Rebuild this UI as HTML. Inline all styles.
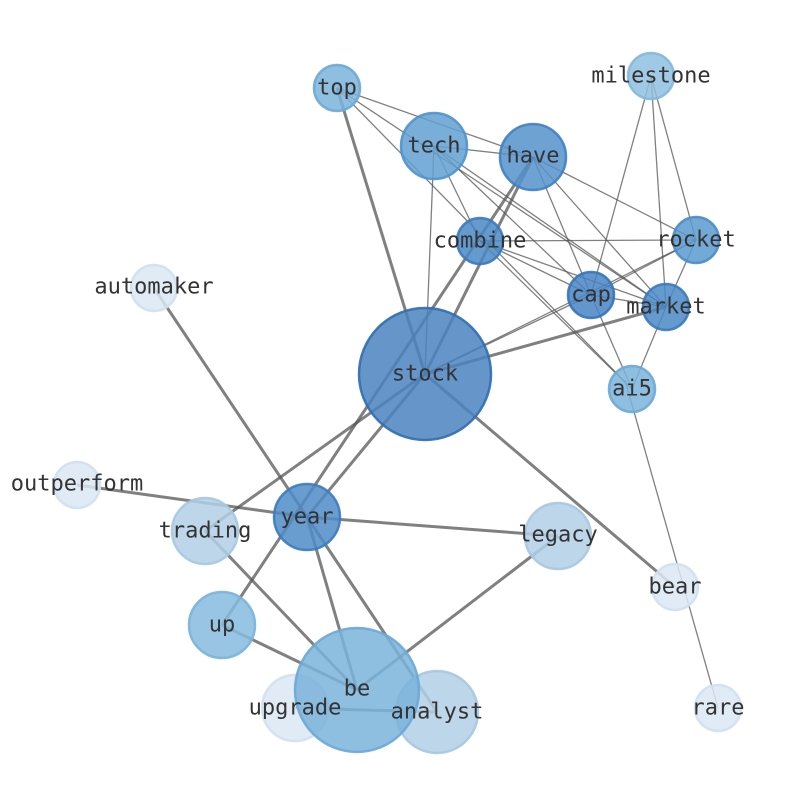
<!DOCTYPE html>
<html><head><meta charset="utf-8"><style>
html,body{margin:0;padding:0;background:#fff;}
svg text{font-family:"DejaVu Sans Mono","Liberation Mono",monospace;font-size:22px;fill:#333;text-anchor:middle;dominant-baseline:central;}
</style></head><body>
<svg width="794" height="790" viewBox="0 0 794 790">
<g stroke="#555" stroke-opacity="0.75" stroke-width="1.3">
<line x1="337" y1="88" x2="533" y2="157"/>
<line x1="337" y1="88" x2="666" y2="307"/>
<line x1="337" y1="88" x2="632" y2="389"/>
<line x1="434" y1="146" x2="533" y2="157"/>
<line x1="434" y1="146" x2="425" y2="374"/>
<line x1="434" y1="146" x2="591" y2="295"/>
<line x1="434" y1="146" x2="666" y2="307"/>
<line x1="434" y1="146" x2="480" y2="241"/>
<line x1="533" y1="157" x2="696" y2="240"/>
<line x1="533" y1="157" x2="591" y2="295"/>
<line x1="533" y1="157" x2="666" y2="307"/>
<line x1="480" y1="241" x2="696" y2="240"/>
<line x1="480" y1="241" x2="591" y2="295"/>
<line x1="480" y1="241" x2="666" y2="307"/>
<line x1="480" y1="241" x2="632" y2="389"/>
<line x1="651" y1="76" x2="591" y2="295"/>
<line x1="651" y1="76" x2="666" y2="307"/>
<line x1="651" y1="76" x2="696" y2="240"/>
<line x1="696" y1="240" x2="591" y2="295"/>
<line x1="696" y1="240" x2="666" y2="307"/>
<line x1="666" y1="307" x2="632" y2="389"/>
<line x1="591" y1="295" x2="666" y2="307"/>
<line x1="591" y1="295" x2="632" y2="389"/>
<line x1="625" y1="380" x2="718" y2="708"/>
<line x1="425" y1="374" x2="591" y2="295"/>
<line x1="425" y1="374" x2="696" y2="240"/>
</g>
<g stroke="#555" stroke-opacity="0.75" stroke-width="3">
<line x1="337" y1="88" x2="425" y2="374"/>
<line x1="533" y1="157" x2="425" y2="374"/>
<line x1="533" y1="157" x2="222" y2="625"/>
<line x1="425" y1="374" x2="666" y2="307"/>
<line x1="425" y1="374" x2="675" y2="587"/>
<line x1="425" y1="374" x2="205" y2="531"/>
<line x1="425" y1="374" x2="307" y2="517"/>
<line x1="154" y1="288" x2="307" y2="517"/>
<line x1="77" y1="485" x2="307" y2="517"/>
<line x1="307" y1="517" x2="558" y2="536"/>
<line x1="307" y1="517" x2="357" y2="690"/>
<line x1="307" y1="517" x2="437" y2="712"/>
<line x1="205" y1="531" x2="357" y2="690"/>
<line x1="222" y1="625" x2="357" y2="690"/>
<line x1="357" y1="690" x2="558" y2="536"/>
<line x1="295" y1="708" x2="437" y2="712"/>
</g>
<g stroke-width="2.5" fill-opacity="0.85" stroke-opacity="0.9">
<circle cx="425" cy="374" r="66" fill="#4a83bf" stroke="#2f6eb0"/>
<circle cx="295" cy="708" r="33" fill="#dce8f4" stroke="#d0e0f0"/>
<circle cx="437" cy="712" r="41" fill="#b3cfe5" stroke="#a6c8e2"/>
<circle cx="357" cy="690" r="62" fill="#7ab3da" stroke="#6aa8d6"/>
<circle cx="222" cy="625" r="33" fill="#86bbdf" stroke="#78b2db"/>
<circle cx="205" cy="531" r="33" fill="#b3cfe5" stroke="#a6c8e2"/>
<circle cx="307" cy="517" r="33" fill="#4f8cc8" stroke="#3b7bbf"/>
<circle cx="558" cy="536" r="33" fill="#b3cfe5" stroke="#a6c8e2"/>
<circle cx="675" cy="587" r="23" fill="#dce8f4" stroke="#d0e0f0"/>
<circle cx="718" cy="708" r="23" fill="#dce8f4" stroke="#d0e0f0"/>
<circle cx="77" cy="485" r="23" fill="#dce8f4" stroke="#d0e0f0"/>
<circle cx="154" cy="288" r="23" fill="#dce8f4" stroke="#d0e0f0"/>
<circle cx="337" cy="88" r="23" fill="#7ab3da" stroke="#6aa8d6"/>
<circle cx="434" cy="146" r="33" fill="#62a0d2" stroke="#4f92cc"/>
<circle cx="533" cy="157" r="33" fill="#5592cb" stroke="#3f80c2"/>
<circle cx="480" cy="241" r="23" fill="#4a88c5" stroke="#3a79bd"/>
<circle cx="696" cy="240" r="23" fill="#5b9acf" stroke="#4a8cc7"/>
<circle cx="591" cy="295" r="23" fill="#4784c3" stroke="#3474b8"/>
<circle cx="666" cy="307" r="23" fill="#4a88c5" stroke="#3a79bd"/>
<circle cx="632" cy="389" r="23" fill="#7ab3da" stroke="#6aa8d6"/>
<circle cx="651" cy="76" r="23" fill="#8fc0e0" stroke="#82b8dd"/>
</g>
<g>
<text x="425" y="374">stock</text>
<text x="357" y="689">be</text>
<text x="437" y="712">analyst</text>
<text x="295" y="708">upgrade</text>
<text x="222" y="625">up</text>
<text x="205" y="531">trading</text>
<text x="307" y="517">year</text>
<text x="558" y="535">legacy</text>
<text x="675" y="587">bear</text>
<text x="718" y="708">rare</text>
<text x="77" y="484">outperform</text>
<text x="154" y="287">automaker</text>
<text x="337" y="88">top</text>
<text x="434" y="146">tech</text>
<text x="533" y="156">have</text>
<text x="480" y="241">combine</text>
<text x="696" y="240">rocket</text>
<text x="591" y="295">cap</text>
<text x="666" y="307">market</text>
<text x="632" y="389">ai5</text>
<text x="651" y="76">milestone</text>
</g>
</svg>
</body></html>
